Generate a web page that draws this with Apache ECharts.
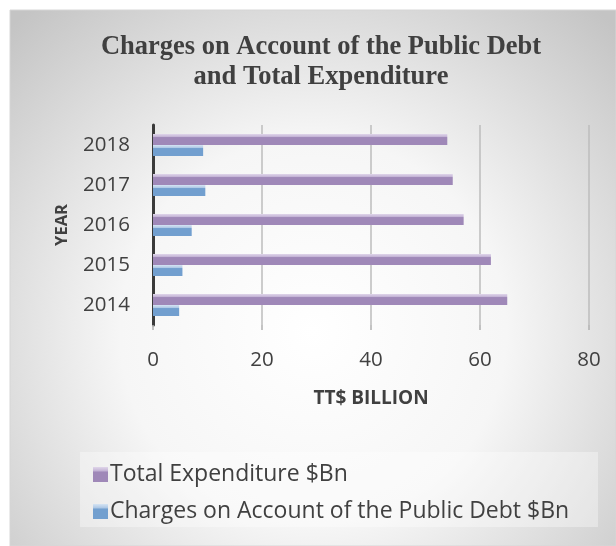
<!DOCTYPE html>
<html><head><meta charset="utf-8">
<script src="https://cdn.jsdelivr.net/npm/echarts@6/dist/echarts.min.js"></script>
<style>html,body{margin:0;padding:0;background:#fff;}#c{width:616px;height:546px;}</style>
</head><body><div id="c"></div>
<script>
const years = ['2014','2015','2016','2017','2018'];
const totalExpenditure = [65.0, 62.0, 57.0, 55.0, 54.0];
const debtCharges = [4.8, 5.4, 7.1, 9.6, 9.2];
const xTicks = [0, 20, 40, 60, 80];

const chart = echarts.init(document.getElementById('c'));
function barGrad(light, mid, base){
  return new echarts.graphic.LinearGradient(0,0,0,1,[
    {offset:0,color:light},{offset:0.28,color:mid},{offset:0.32,color:base},{offset:1,color:base}
  ]);
}
chart.setOption({
  backgroundColor:'#ffffff',
  graphic:[{
    type:'rect', z:-10, silent:true,
    shape:{x:10,y:10,width:606,height:536},
    style:{
      fill:new echarts.graphic.RadialGradient(0.5,0.6,0.8,[
        {offset:0,color:'#ffffff'},{offset:0.45,color:'#f6f6f6'},{offset:1,color:'#c4c4c4'}
      ]),
      stroke:'#d6d6d6', lineWidth:1
    }
  },{
    type:'rect', z:-5, silent:true,
    shape:{x:80,y:452,width:518,height:75},
    style:{fill:'rgba(255,255,255,0.35)'}
  }],
  title:{
    text:'Charges on Account of the Public Debt\nand Total Expenditure',
    left:316, textAlign:'center', top:27,
    textStyle:{fontFamily:'Liberation Serif',fontWeight:'bold',fontSize:26.5,color:'#404040',lineHeight:30}
  },
  legend:{
    orient:'vertical', left:88, top:458, itemWidth:15, itemHeight:15, itemGap:14,
    icon:'rect',
    data:['Total Expenditure $Bn','Charges on Account of the Public Debt $Bn'],
    textStyle:{fontFamily:'Open Sans',fontSize:23,lineHeight:23,color:'#404040',padding:[0,0,0,-3]}
  },
  grid:{left:153,right:27,top:125,bottom:221,containLabel:false},
  xAxis:{
    type:'value', min:0, max:80, interval:20,
    name:'TT$ BILLION', nameLocation:'middle', nameGap:64,
    nameTextStyle:{fontFamily:'Open Sans',fontWeight:'bold',fontSize:19,color:'#404040'},
    axisLine:{show:false},
    axisTick:{show:true,length:5,lineStyle:{color:'#b0b0b0',width:1.5}},
    splitLine:{show:true,lineStyle:{color:'#bdbdbd',width:1.5}},
    axisLabel:{fontFamily:'Open Sans',fontSize:20.5,color:'#404040',margin:25}
  },
  yAxis:{
    type:'category', data:years,
    name:'YEAR', nameLocation:'middle', nameGap:82, nameRotate:90,
    nameTextStyle:{fontFamily:'Open Sans',fontWeight:'bold',fontSize:16.5,color:'#404040'},
    axisLine:{show:true,lineStyle:{color:'#3a3a3a',width:3}},
    axisTick:{show:false},
    axisLabel:{fontFamily:'Open Sans',fontSize:20.5,color:'#404040',margin:23}
  },
  series:[
    {name:'Total Expenditure $Bn',type:'bar',data:totalExpenditure,
     barWidth:11,barGap:'0%',
     itemStyle:{color:barGrad('#e0d6ea','#c0afd3','#9f88b8')}},
    {name:'Charges on Account of the Public Debt $Bn',type:'bar',data:debtCharges,
     barWidth:11,barGap:'0%',
     itemStyle:{color:barGrad('#d6e4f3','#a9c5e4','#729fcf')}}
  ]
});
</script></body></html>
